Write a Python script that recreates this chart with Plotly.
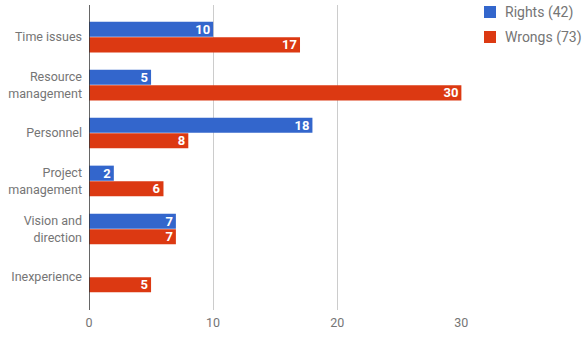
import plotly.graph_objects as go

categories = ["Time issues", "Resource<br>management", "Personnel", "Project<br>management",
              "Vision and<br>direction", "Inexperience"]
rights = [10, 5, 18, 2, 7, 0]
wrongs = [17, 30, 8, 6, 7, 5]
series_names = ["Rights", "Wrongs"]
colors = ["#3366cc", "#dc3912"]
x_ticks = [0, 10, 20, 30]

fig = go.Figure()
for name, vals, col in zip(series_names, [rights, wrongs], colors):
    fig.add_trace(go.Bar(
        y=categories, x=vals, orientation="h", name=f"{name} ({sum(vals)})",
        marker=dict(color=col, line=dict(width=0)),
        text=[str(v) if v else "" for v in vals],
        textposition="inside", insidetextanchor="end",
        textfont=dict(family="Roboto", size=13, color="white", weight="bold"),
        textangle=0, cliponaxis=False, showlegend=False,
    ))

# legend drawn manually
for i, (name, vals, col) in enumerate(zip(series_names, [rights, wrongs], colors)):
    y0 = 6 + i * 25
    fig.add_shape(type="rect", xref="paper", yref="paper",
                  x0=(484 - 89) / 373, x1=(496 - 89) / 373,
                  y0=1 - (y0 + 12 - 5) / 305, y1=1 - (y0 - 5) / 305,
                  fillcolor=col, line=dict(width=0))
    fig.add_annotation(xref="paper", yref="paper", x=(503 - 89) / 373, y=1 - (y0 + 6 - 5) / 305,
                       text=f"{name} ({sum(vals)})", showarrow=False, xanchor="left", yanchor="middle",
                       font=dict(family="Roboto", size=14, color="#757575"))

fig.update_layout(
    width=582, height=341,
    margin=dict(l=89, r=120, t=5, b=31),
    barmode="group", bargap=0.35, bargroupgap=0.03,
    uniformtext=dict(minsize=13, mode="show"),
    plot_bgcolor="white", paper_bgcolor="white",
    font=dict(family="Roboto", color="#444"),
    xaxis=dict(range=[0, 30.05], tickvals=x_ticks, showgrid=True, gridcolor="#cccccc", gridwidth=1,
               zeroline=False, showline=False, ticks="", ticklabelstandoff=3,
               tickfont=dict(family="Roboto", size=12.5, color="#757575")),
    yaxis=dict(range=[5.6875, -0.667], showgrid=False, zeroline=False, ticks="",
               tickfont=dict(family="Roboto", size=12.5, color="#757575"), ticklabelstandoff=6),
)
fig.add_shape(type="line", xref="x", yref="paper", x0=0, x1=0, y0=0, y1=1,
              line=dict(color="#333333", width=1.5))

fig.write_html("out.html")
